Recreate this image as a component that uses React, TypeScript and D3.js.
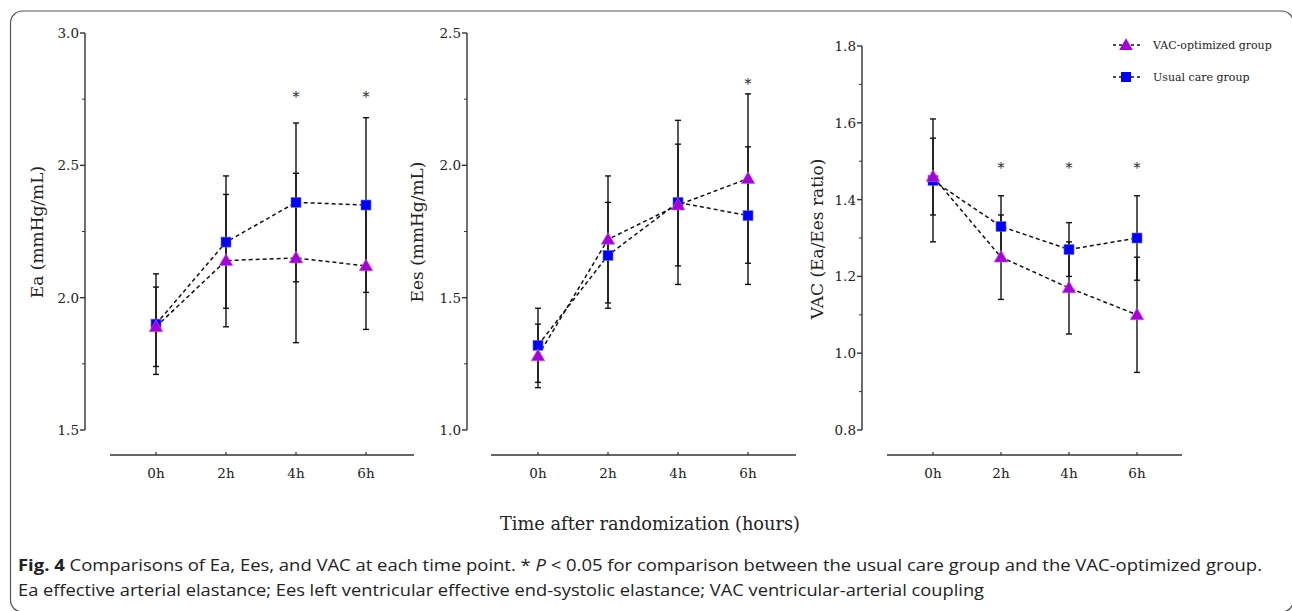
import React from 'react';
import * as d3 from 'd3';

const times = ['0h', '2h', '4h', '6h'];

const eaUsual = [1.9, 2.21, 2.36, 2.35];
const eaUsualSd = [0.19, 0.25, 0.3, 0.33];
const eaVac = [1.89, 2.14, 2.15, 2.12];
const eaVacSd = [0.15, 0.25, 0.32, 0.24];
const eaStars = ['4h', '6h'];

const eesUsual = [1.32, 1.66, 1.86, 1.81];
const eesUsualSd = [0.14, 0.2, 0.31, 0.26];
const eesVac = [1.28, 1.72, 1.85, 1.95];
const eesVacSd = [0.12, 0.24, 0.23, 0.32];
const eesStars = ['6h'];

const vacUsual = [1.45, 1.33, 1.27, 1.3];
const vacUsualSd = [0.16, 0.08, 0.07, 0.11];
const vacVac = [1.46, 1.25, 1.17, 1.1];
const vacVacSd = [0.1, 0.11, 0.12, 0.15];
const vacStars = ['2h', '4h', '6h'];

const legendLabels = ['VAC-optimized group', 'Usual care group'];

const W = 1292;
const H = 611;
const SERIF = '"DejaVu Serif", "Liberation Serif", serif';
const SANS = '"Open Sans", "Noto Sans", sans-serif';
const PURPLE = '#a800dc';
const BLUE = '#0000ff';
const AXIS = '#333';

const panels = [
  {
    title: 'Ea (mmHg/mL)', usual: eaUsual, usualSd: eaUsualSd, vac: eaVac, vacSd: eaVacSd,
    stars: eaStars, starY: 2.77, domain: [1.5, 3.0], ticks: [1.5, 2.0, 2.5, 3.0], minor: [1.75, 2.25, 2.75],
    yAxisX: 85, yTop: 33, xLine: [110, 414], xRange: [156, 366], titleX: 38, titleY: 232,
  },
  {
    title: 'Ees (mmHg/mL)', usual: eesUsual, usualSd: eesUsualSd, vac: eesVac, vacSd: eesVacSd,
    stars: eesStars, starY: 2.32, domain: [1.0, 2.5], ticks: [1.0, 1.5, 2.0, 2.5], minor: [1.25, 1.75, 2.25],
    yAxisX: 467, yTop: 33, xLine: [491, 796], xRange: [538, 748], titleX: 418, titleY: 232,
  },
  {
    title: 'VAC (Ea/Ees ratio)', usual: vacUsual, usualSd: vacUsualSd, vac: vacVac, vacSd: vacVacSd,
    stars: vacStars, starY: 1.49, domain: [0.8, 1.8], ticks: [0.8, 1.0, 1.2, 1.4, 1.6, 1.8], minor: [0.9, 1.1, 1.3, 1.5, 1.7],
    yAxisX: 862, yTop: 46, xLine: [887, 1182], xRange: [933, 1137], titleX: 818, titleY: 239,
  },
];

const yBottom = 430;
const xAxisY = 455;

const triangle = d3.symbol().type(d3.symbolTriangle).size(80);

function Panel({ p }: { p: any }) {
  const x = d3.scalePoint<string>().domain(times).range(p.xRange);
  const y = d3.scaleLinear().domain(p.domain).range([yBottom, p.yTop]);
  const line = d3.line<number>().x((_, i) => x(times[i]) as number).y((d) => y(d));
  const bars = (vals: number[], sds: number[], key: string) =>
    vals.map((v, i) => {
      const cx = x(times[i]) as number;
      const y1 = y(v + sds[i]);
      const y2 = y(v - sds[i]);
      return (
        <g key={key + i} stroke="#111" strokeWidth={1.4}>
          <line x1={cx} x2={cx} y1={y1} y2={y2} />
          <line x1={cx - 3} x2={cx + 3} y1={y1} y2={y1} />
          <line x1={cx - 3} x2={cx + 3} y1={y2} y2={y2} />
        </g>
      );
    });
  return (
    <g>
      {/* y axis */}
      <line x1={p.yAxisX} x2={p.yAxisX} y1={p.yTop} y2={yBottom} stroke={AXIS} strokeWidth={1.4} />
      {p.ticks.map((t: number) => (
        <g key={t}>
          <line x1={p.yAxisX - 5} x2={p.yAxisX} y1={y(t)} y2={y(t)} stroke={AXIS} strokeWidth={1.4} />
          <text x={p.yAxisX - 6} y={y(t) + 5} textAnchor="end" fontFamily={SERIF} fontSize={13.5} fill="#222">
            {t.toFixed(1)}
          </text>
        </g>
      ))}
      {p.minor.map((t: number) => (
        <line key={t} x1={p.yAxisX - 3} x2={p.yAxisX} y1={y(t)} y2={y(t)} stroke={AXIS} strokeWidth={1} />
      ))}
      <text
        transform={`translate(${p.titleX},${p.titleY}) rotate(-90)`}
        textAnchor="middle" dominantBaseline="middle" fontFamily={SERIF} fontSize={17} fill="#222"
      >
        {p.title}
      </text>
      {/* x axis */}
      <line x1={p.xLine[0]} x2={p.xLine[1]} y1={xAxisY} y2={xAxisY} stroke={AXIS} strokeWidth={1.4} />
      {times.map((t) => (
        <g key={t}>
          <line x1={x(t)} x2={x(t)} y1={xAxisY - 3} y2={xAxisY} stroke={AXIS} strokeWidth={1.2} />
          <text x={x(t)} y={478} textAnchor="middle" fontFamily={SERIF} fontSize={13.5} fill="#222">{t}</text>
        </g>
      ))}
      {bars(p.usual, p.usualSd, 'u')}
      {bars(p.vac, p.vacSd, 'v')}
      <path d={line(p.usual) as string} fill="none" stroke="#111" strokeWidth={1.5} strokeDasharray="4,3" />
      <path d={line(p.vac) as string} fill="none" stroke="#111" strokeWidth={1.5} strokeDasharray="4,3" />
      {p.usual.map((v: number, i: number) => (
        <rect key={'s' + i} x={(x(times[i]) as number) - 5} y={y(v) - 5} width={10} height={10}
          fill={BLUE} stroke="#6a6aff" strokeWidth={0.6} />
      ))}
      {p.vac.map((v: number, i: number) => (
        <path key={'t' + i} d={triangle() as string}
          transform={`translate(${x(times[i])},${y(v) + 1})`} fill={PURPLE} stroke="#c25cf0" strokeWidth={0.6} />
      ))}
      {p.stars.map((t: string) => (
        <text key={t} x={x(t)} y={y(p.starY) + 8} textAnchor="middle" fontFamily={SERIF} fontSize={14} fill="#222">*</text>
      ))}
    </g>
  );
}

export default function App() {
  const legendY = [45, 77];
  return (
    <svg width={W} height={H} style={{ position: 'absolute', left: 0, top: 0, background: '#fff' }}>
      <rect x={10.5} y={11} width={1283} height={601} rx={12} fill="none" stroke="#555" strokeWidth={1.2} />
      {panels.map((p, i) => <Panel key={i} p={p} />)}
      {legendLabels.map((lab, i) => (
        <g key={lab}>
          <line x1={1113} x2={1140} y1={legendY[i]} y2={legendY[i]} stroke="#111" strokeWidth={1.4} strokeDasharray="3,3" />
          {i === 0 ? (
            <path d={triangle() as string} transform={`translate(1126,${legendY[i] + 1})`} fill={PURPLE} />
          ) : (
            <rect x={1121} y={legendY[i] - 5} width={10} height={10} fill={BLUE} />
          )}
          <text x={1153} y={legendY[i] + 4} fontFamily={SERIF} fontSize={11} fill="#222">{lab}</text>
        </g>
      ))}
      <text x={650} y={530} textAnchor="middle" fontFamily={SERIF} fontSize={19} fill="#222"
        textLength={300} lengthAdjust="spacingAndGlyphs">
        Time after randomization (hours)
      </text>
      <text x={18} y={571} fontFamily={SANS} fontSize={16} fill="#222" textLength={1244} lengthAdjust="spacingAndGlyphs">
        <tspan fontWeight="bold">Fig. 4</tspan>
        {'  Comparisons of Ea, Ees, and VAC at each time point. * '}
        <tspan fontStyle="italic">P</tspan>
        {' < 0.05 for comparison between the usual care group and the VAC-optimized group.'}
      </text>
      <text x={18} y={596} fontFamily={SANS} fontSize={16} fill="#222" textLength={966} lengthAdjust="spacingAndGlyphs">
        Ea effective arterial elastance; Ees left ventricular effective end-systolic elastance; VAC ventricular-arterial coupling
      </text>
    </svg>
  );
}
